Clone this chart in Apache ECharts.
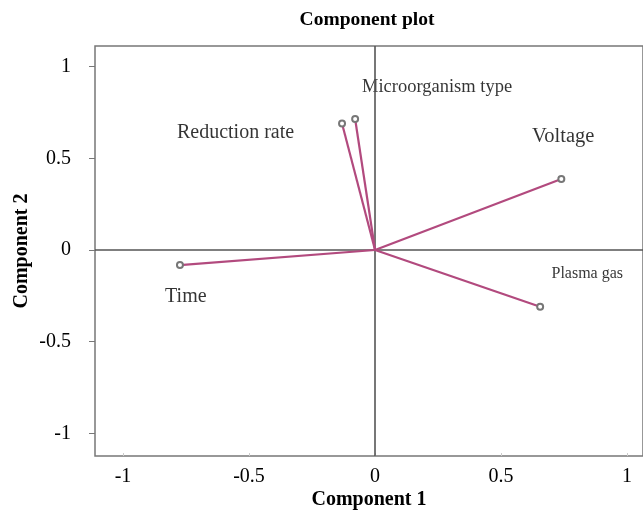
<!DOCTYPE html>
<html>
<head>
<meta charset="utf-8">
<script src="https://cdn.jsdelivr.net/npm/echarts@6/dist/echarts.min.js"></script>
<style>
  html, body { margin: 0; padding: 0; background: #fff; }
  #chart { width: 643px; height: 512px; }
</style>
</head>
<body>
<div id="chart"></div>
<script>
// loadings
const variables = ['Time', 'Reduction rate', 'Microorganism type', 'Voltage', 'Plasma gas'];
const comp1 = [-0.774, -0.131, -0.079, 0.739, 0.655];
const comp2 = [-0.082, 0.69, 0.714, 0.387, -0.309];

// where each text label sits, in data units
const labelX = [-0.833, -0.786, -0.052, 0.623, 0.700];
const labelY = [-0.256, 0.637, 0.888, 0.616, -0.131];
const labelSize = [20, 20, 18.5, 20.5, 16];

const tickValues = [-1, -0.5, 0, 0.5, 1];

const serif = 'Liberation Serif';
const chart = echarts.init(document.getElementById('chart'), null, { renderer: 'canvas' });

let series = variables.map((name, i) => ({
  type: 'line',
  name: name,
  data: [
    { value: [0, 0], symbol: 'none' },
    { value: [comp1[i], comp2[i]] }
  ],
  symbol: 'emptyCircle',
  symbolSize: 6,
  itemStyle: { color: '#777', borderWidth: 1.3 },
  lineStyle: { color: '#b24a7e', width: 2.2 },
  z: 5,
  silent: true
}));

// zero reference lines
series.push({
  type: 'line',
  data: [],
  silent: true,
  markLine: {
    symbol: 'none',
    label: { show: false },
    lineStyle: { color: '#555', width: 1.6, type: 'solid' },
    data: [{ xAxis: 0 }, { yAxis: 0 }]
  },
  z: 2
});

// variable names
series.push({
  type: 'scatter',
  symbolSize: 0,
  silent: true,
  data: variables.map((name, i) => ({
    value: [labelX[i], labelY[i]],
    name: name,
    label: { fontSize: labelSize[i] }
  })),
  label: {
    show: true,
    formatter: p => p.name,
    position: [0, 0],
    align: 'left',
    verticalAlign: 'middle',
    color: '#000',
    fontFamily: serif
  }
});

chart.setOption({
  animation: false,
  title: {
    text: 'Component plot',
    left: 362,
    top: 5,
    textAlign: 'center',
    textStyle: { fontFamily: serif, fontWeight: 'bold', fontSize: 19.5, color: '#000' }
  },
  grid: {
    left: 95, top: 46, right: 0, bottom: 56,
    outerBoundsMode: 'none',
    show: true, borderColor: '#777', borderWidth: 1.5
  },
  xAxis: {
    type: 'value',
    min: -1.111,
    max: 1.063,
    name: 'Component 1',
    nameLocation: 'middle',
    nameMoveOverlap: false,
    nameGap: 34,
    nameTextStyle: { fontFamily: serif, fontWeight: 'bold', fontSize: 20, color: '#000' },
    axisLine: { show: false, onZero: false },
    splitLine: { show: false },
    axisTick: { show: true, inside: true, length: 3, lineStyle: { color: '#ccc' }, customValues: tickValues },
    axisLabel: { customValues: tickValues, margin: 11, fontFamily: serif, fontSize: 20, color: '#000' }
  },
  yAxis: {
    type: 'value',
    min: -1.123,
    max: 1.112,
    name: 'Component 2',
    nameLocation: 'middle',
    nameMoveOverlap: false,
    nameGap: 63,
    nameTextStyle: { fontFamily: serif, fontWeight: 'bold', fontSize: 20, color: '#000' },
    axisLine: { show: false, onZero: false },
    splitLine: { show: false },
    axisTick: { show: true, length: 6, lineStyle: { color: '#777' }, customValues: tickValues },
    axisLabel: { customValues: tickValues, margin: 24, fontFamily: serif, fontSize: 20, color: '#000' }
  },
  series: series
});
</script>
</body>
</html>
